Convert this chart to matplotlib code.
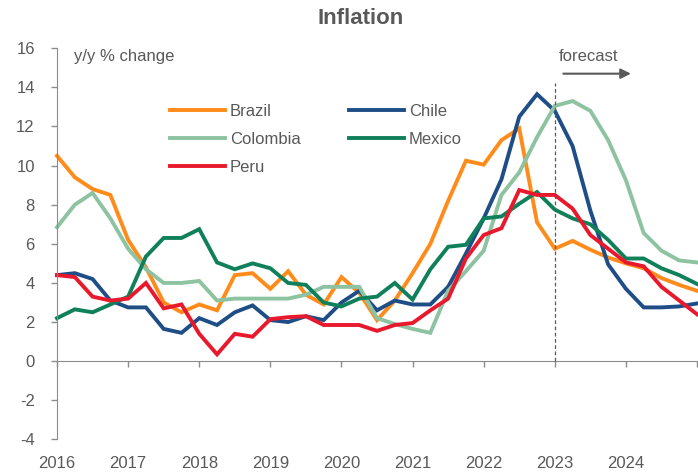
import numpy as np
import matplotlib
matplotlib.use("Agg")
import matplotlib.pyplot as plt
from matplotlib.patches import FancyArrowPatch

plt.rcParams['font.family'] = ['Liberation Sans', 'DejaVu Sans']
plt.rcParams['axes.unicode_minus'] = False

# quarterly, 2016Q1 .. 2024Q4 plotted on a year axis
start_year = 2016
n_quarters = 37
brazil = [10.5, 9.4, 8.8, 8.5, 6.2, 4.8, 3.0, 2.5, 2.9, 2.6, 4.4, 4.5,
          3.7, 4.6, 3.4, 2.9, 4.3, 3.5, 2.1, 3.1, 4.5, 6.0, 8.2, 10.25,
          10.05, 11.3, 11.9, 7.1, 5.75, 6.15, 5.7, 5.3, 5.0, 4.75, 4.25, 3.9, 3.6]
chile = [4.4, 4.5, 4.2, 3.1, 2.75, 2.75, 1.65, 1.45, 2.2, 1.85, 2.5, 2.85,
         2.1, 2.0, 2.3, 2.1, 3.0, 3.6, 2.6, 3.1, 2.9, 2.9, 3.8, 5.5,
         7.3, 9.3, 12.5, 13.65, 12.8, 11.0, 7.7, 4.95, 3.7, 2.75, 2.75, 2.8, 2.95]
colombia = [6.85, 8.0, 8.6, 7.3, 5.75, 4.7, 4.0, 4.0, 4.1, 3.1, 3.2, 3.2,
            3.2, 3.2, 3.4, 3.8, 3.8, 3.8, 2.2, 1.9, 1.65, 1.45, 3.6, 4.6,
            5.65, 8.5, 9.65, 11.45, 13.05, 13.3, 12.8, 11.3, 9.25, 6.55, 5.65, 5.15, 5.05]
mexico = [2.2, 2.65, 2.5, 2.9, 3.3, 5.35, 6.3, 6.3, 6.75, 5.05, 4.7, 5.0,
          4.75, 4.0, 3.9, 3.0, 2.8, 3.2, 3.3, 4.0, 3.15, 4.7, 5.85, 5.95,
          7.3, 7.4, 8.05, 8.65, 7.75, 7.3, 7.0, 6.2, 5.25, 5.25, 4.75, 4.4, 3.95]
peru = [4.4, 4.3, 3.3, 3.1, 3.2, 4.0, 2.7, 2.9, 1.4, 0.35, 1.4, 1.25,
        2.15, 2.25, 2.3, 1.85, 1.85, 1.85, 1.55, 1.85, 1.95, 2.6, 3.2, 5.25,
        6.45, 6.8, 8.75, 8.5, 8.5, 7.8, 6.45, 5.75, 5.05, 4.85, 3.8, 3.1, 2.4]

years = list(range(2016, 2026))
year_labels = [str(y) for y in years[:-1]]
forecast_start = 2023.0

x = start_year + np.arange(n_quarters) / 4
grey = '#595959'
axis_grey = '#8C8C8C'

fig = plt.figure(figsize=(6.98, 4.73), dpi=100)
ax = fig.add_axes([0.0817, 0.071, 0.9169, 0.827])

series = [('Brazil', brazil, '#FF8C1A'),
          ('Chile', chile, '#1F4E86'),
          ('Colombia', colombia, '#8DC3A0'),
          ('Mexico', mexico, '#10805A'),
          ('Peru', peru, '#E8192C')]
lines = {}
for name, vals, col in series:
    ln, = ax.plot(x, vals, color=col, lw=2.8, label=name, clip_on=False,
                  solid_joinstyle='miter')
    lines[name] = ln

ax.set_xlim(2016, 2025)
ax.set_ylim(-4, 16)
ax.set_yticks(range(-4, 17, 2))
ax.tick_params(axis='y', length=4, width=1, color=axis_grey, labelcolor=grey,
               labelsize=12, pad=12)
ax.set_xticks(years[:-1])
ax.set_xticklabels(year_labels)
ax.tick_params(axis='x', length=0, labelcolor=grey, labelsize=12, pad=12)
for s in ['top', 'right', 'bottom']:
    ax.spines[s].set_visible(False)
ax.spines['left'].set_color(axis_grey)

# x axis line with ticks at y = 0
sec = ax.secondary_xaxis((0 - (-4)) / 20)
sec.set_xticks(years)
sec.tick_params(axis='x', length=4, width=1, color=axis_grey, labelbottom=False)
sec.spines['bottom'].set_color(axis_grey)

# forecast marker
ax.vlines(forecast_start, 0, 14.2, colors=grey, linestyles=(0, (3, 2)), lw=0.9)
arrow = FancyArrowPatch((2023.12, 14.7), (2024.07, 14.7), arrowstyle='-|>',
                        mutation_scale=15, color=grey, lw=1.5,
                        shrinkA=0, shrinkB=0, clip_on=False)
ax.add_patch(arrow)
ax.text(2023.06, 15.6, 'forecast', color=grey, fontsize=12, va='center', ha='left')
ax.text(2016.24, 15.6, 'y/y % change', color=grey, fontsize=12, va='center', ha='left')

fig.text(0.517, 1 - 18.7 / 473, 'Inflation', ha='center', va='center',
         fontsize=16, fontweight='bold', color=grey)

order = ['Brazil', 'Colombia', 'Peru', 'Chile', 'Mexico']
ax.legend([lines[n] for n in order], order, ncol=2, frameon=False,
          loc='upper left', bbox_to_anchor=(0.2436, 0.781),
          bbox_transform=fig.transFigure, handlelength=3.3, handletextpad=0.3,
          columnspacing=2.9, labelspacing=0.8, borderpad=0, borderaxespad=0,
          fontsize=12, labelcolor=grey)

fig.savefig('out.png', dpi=100)
